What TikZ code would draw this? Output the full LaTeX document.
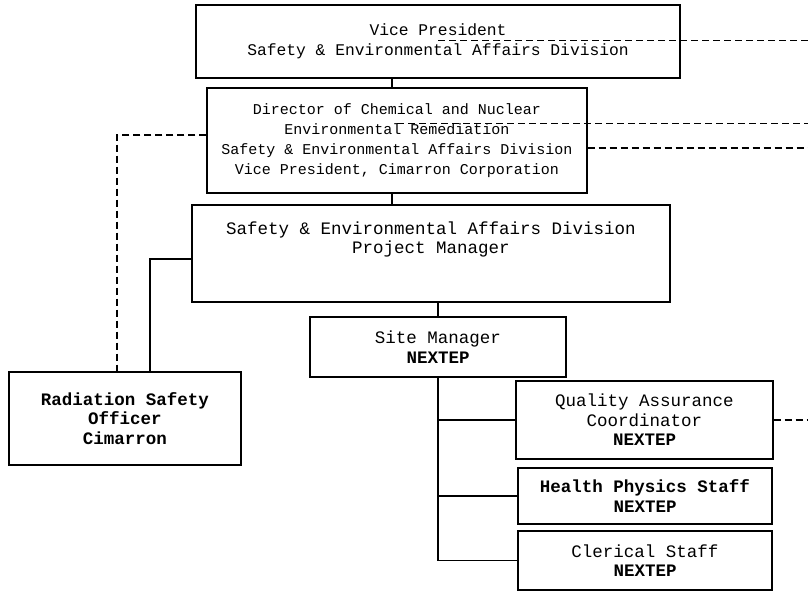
\documentclass[tikz,border=0pt]{standalone}
\usepackage{fontspec}
\newfontfamily\typer{Liberation Mono}
\begin{document}
\begin{tikzpicture}[x=1pt,y=-1pt,
  box/.style={draw, rectangle, line width=1.4pt, align=center, inner sep=0pt,
    font=\typer\fontsize{17.5}{19.5}\selectfont},
  link/.style={line width=1.4pt},
  dashlink/.style={line width=1.4pt, dash pattern=on 7pt off 4pt},
  thindash/.style={line width=0.7pt, dash pattern=on 7pt off 4pt}]
\useasboundingbox (0,0) rectangle (808,593);
\node[box, minimum width=484pt, minimum height=73pt, font=\typer\fontsize{16.3}{20}\selectfont] (vp) at (438,41.5){Vice President\\Safety \& Environmental Affairs Division};
\node[box, minimum width=380pt, minimum height=105pt, font=\typer\fontsize{15}{20}\selectfont] (dir) at (397,140.5){Director of Chemical and Nuclear\\Environmental Remediation\\Safety \& Environmental Affairs Division\\Vice President, Cimarron Corporation};
\node[box, minimum width=478pt, minimum height=97pt] (pm) at (431,253.5){Safety \& Environmental Affairs Division\\Project Manager\\[12pt]~};
\node[box, minimum width=256pt, minimum height=60pt] (sm) at (438,347){Site Manager\\\textbf{NEXTEP}};
\node[box, minimum width=232pt, minimum height=93pt] (rso) at (125,418.5){\textbf{Radiation Safety}\\\textbf{Officer}\\\textbf{Cimarron}};
\node[box, minimum width=257pt, minimum height=78pt] (qa) at (644.5,420){Quality Assurance\\Coordinator\\\textbf{NEXTEP}};
\node[box, minimum width=254pt, minimum height=56pt] (hp) at (645,496){\textbf{Health Physics Staff}\\\textbf{NEXTEP}};
\node[box, minimum width=254pt, minimum height=59pt] (clk) at (645,560.5){Clerical Staff\\\textbf{NEXTEP}};
\coordinate (vpout) at (808,40);
\coordinate (dirout) at (808,123);
\coordinate (dirout2) at (808,148);
\coordinate (qaout) at (808,420);
\draw[link] ([xshift=-5pt]dir.north) -- ([xshift=-5pt]dir.north |- vp.south);
\draw[link] ([xshift=-5pt]dir.south) -- ([xshift=-5pt]dir.south |- pm.north);
\draw[link] (sm.north) -- (sm.north |- pm.south);
\draw[link] (sm.south) |- (clk.west);
\draw[link] (sm.south |- qa.west) -- (qa.west);
\draw[link] (sm.south |- hp.west) -- (hp.west);
\draw[link] ([yshift=-5.5pt]pm.west) -| ([xshift=25pt]rso.north);
\draw[dashlink] ([yshift=5.5pt]dir.west) -| ([xshift=-8pt]rso.north);
\draw[dashlink] (dirout2 -| dir.east) -- (dirout2);
\draw[dashlink] (qa.east) -- (qaout);
\draw[thindash] (vpout -| vp.center) -- (vpout);
\draw[thindash] (dirout -| dir.center) -- (dirout);
\end{tikzpicture}
\end{document}
